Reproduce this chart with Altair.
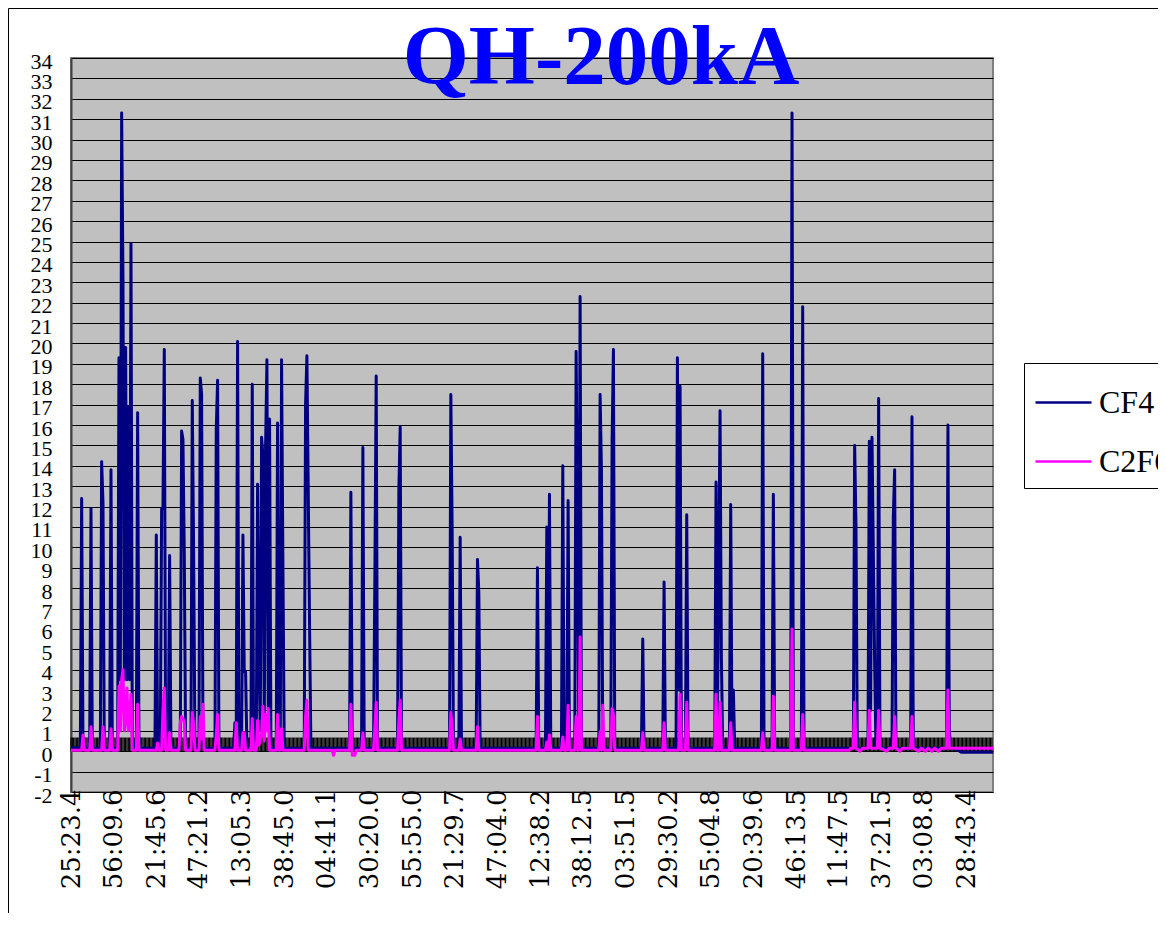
import json
import altair as alt
import pandas as pd

TITLE = "QH-200kA"
SERIES = ["CF4", "C2F6"]
COLORS = ["#000080", "#FF00FF"]

# category-axis labels (one every 32 samples)
TIME_LABELS = ["25:23.4", "56:09.6", "21:45.6", "47:21.2", "13:05.3", "38:45.0",
               "04:41.1", "30:20.0", "55:55.0", "21:29.7", "47:04.0", "12:38.2",
               "38:12.5", "03:51.5", "29:30.2", "55:04.8", "20:39.6", "46:13.5",
               "11:47.5", "37:21.5", "03:08.8", "28:43.4"]
SAMPLES_PER_LABEL = 32
LAST_SAMPLE = 691.8
Y_TICKS = list(range(-2, 35))

# CF4 series: sample index / concentration
CF4_IDX = [0, 7, 8, 9, 14, 15, 16, 22, 23, 24, 25, 29, 30, 31, 35, 36, 37, 38, 39, 40,
           41, 42, 43, 44, 45, 46, 47, 49, 50, 51, 63, 64, 65, 67, 68, 69, 70, 71, 73, 74,
           75, 82, 83, 84, 85, 86, 90, 91, 92, 93, 96, 97, 98, 99, 100, 108, 109, 110, 111,
           122, 123, 124, 125, 126, 128, 129, 130, 131, 132, 135, 136, 137, 139, 140, 141,
           142, 143, 144, 145, 146, 147, 148, 149, 150, 154, 155, 156, 157, 158, 159, 160,
           175, 176, 177, 179, 180, 209, 210, 211, 218, 219, 220, 227, 228, 229, 230, 245,
           246, 247, 248, 284, 285, 286, 287, 291, 292, 293, 304, 305, 306, 307, 349, 350,
           351, 356, 357, 358, 359, 360, 368, 369, 370, 372, 373, 374, 378, 379, 380, 381,
           382, 383, 396, 397, 398, 399, 405, 406, 407, 408, 428, 429, 430, 444, 445, 446,
           454, 455, 456, 457, 458, 461, 462, 463, 483, 484, 485, 487, 488, 489, 494, 495,
           496, 497, 498, 518, 519, 520, 526, 527, 528, 540, 541, 542, 548, 549, 550, 587,
           588, 589, 590, 598, 599, 600, 601, 603, 604, 605, 606, 607, 616, 617, 618, 619,
           630, 631, 632, 657, 658, 659, 660, 663, 668, 692]
CF4_VAL = [0.2, 0.15, 12.4, 0.15, 0.15, 11.9, 0.15, 0.15, 14.2, 12.2, 0.15, 0.15, 13.8, 0.15,
           0.15, 19.3, 3.5, 31.3, 23.1, 3.5, 19.8, 3.5, 16.9, 3.5, 24.9, 0.8, 0.15, 0.15, 16.6,
           0.15, 0.15, 10.6, 0.15, 0.15, 11.9, 11.9, 19.7, 0.15, 0.15, 9.6, 0.15, 0.15, 15.7,
           15.3, 9.7, 0.15, 0.15, 17.2, 9.9, 0.15, 0.15, 18.3, 17.5, 1.0, 0.15, 0.15, 15.8,
           18.2, 0.15, 0.15, 1.4, 1.4, 20.1, 0.15, 0.15, 10.6, 3.9, 3.9, 0.15, 0.15, 18.0,
           0.15, 0.15, 13.1, 4.7, 1.0, 15.4, 14.5, 1.0, 14.9, 19.2, 2.0, 16.3, 0.15, 0.15,
           16.1, 0.15, 0.15, 19.2, 9.2, 0.15, 0.15, 17.0, 19.4, 6.2, 0.15, 0.15, 12.7, 0.15,
           0.15, 14.9, 0.15, 0.15, 8.6, 18.4, 0.15, 0.15, 12.8, 15.9, 0.15, 0.15, 17.5, 10.8,
           0.15, 0.15, 10.5, 0.15, 0.15, 9.4, 7.8, 0.15, 0.15, 9.0, 0.15, 0.15, 11.0, 0.5,
           12.6, 0.15, 0.15, 14.0, 0.15, 0.15, 12.3, 0.15, 0.15, 19.6, 12.0, 1.0, 22.3, 0.15,
           0.15, 17.5, 13.8, 0.15, 0.15, 15.2, 19.7, 0.15, 0.15, 5.5, 0.15, 0.15, 8.3, 0.15,
           0.15, 19.3, 3.0, 17.9, 0.15, 0.15, 11.6, 0.15, 0.15, 13.2, 1.0, 16.7, 4.6, 0.15,
           0.15, 12.1, 0.15, 3.0, 0.15, 0.15, 19.5, 0.15, 0.15, 12.6, 0.15, 0.15, 31.3, 0.15,
           0.15, 21.8, 0.15, 0.15, 15.0, 11.0, 0.15, 0.15, 15.2, 2.0, 15.4, 4.3, 0.15, 0.15,
           17.3, 0.15, 0.15, 11.5, 13.8, 0.15, 0.15, 16.4, 0.15, 0.15, 16.0, 1.1, 0.15, 0.15,
           -0.05, -0.05]

# C2F6 series
C2F6_IDX = [0, 8, 9, 10, 14, 15, 16, 23, 24, 25, 29, 30, 31, 35, 36, 37, 38, 39, 40, 41,
            42, 43, 44, 45, 46, 49, 50, 51, 64, 65, 66, 68, 69, 70, 71, 73, 74, 75, 81, 82,
            83, 84, 85, 86, 90, 91, 92, 93, 96, 97, 98, 99, 100, 108, 109, 110, 111, 123, 124,
            125, 128, 129, 130, 131, 135, 136, 137, 139, 140, 141, 143, 144, 145, 146, 147,
            148, 149, 154, 155, 156, 157, 158, 159, 175, 176, 177, 178, 196, 197, 198, 209,
            210, 211, 213, 214, 218, 219, 220, 227, 228, 229, 230, 245, 246, 247, 248, 284,
            285, 286, 287, 291, 292, 293, 304, 305, 306, 349, 350, 351, 356, 357, 358, 359,
            360, 368, 369, 370, 372, 373, 374, 378, 379, 380, 381, 382, 383, 396, 397, 398,
            399, 400, 405, 406, 407, 408, 428, 429, 430, 444, 445, 446, 456, 457, 458, 461,
            462, 463, 483, 484, 485, 486, 487, 488, 494, 495, 496, 518, 519, 520, 526, 527,
            528, 540, 541, 542, 548, 549, 550, 584, 585, 587, 588, 589, 592, 594, 598, 599,
            600, 605, 606, 607, 612, 614, 617, 618, 619, 622, 624, 630, 631, 632, 636, 638,
            641, 643, 646, 648, 651, 653, 657, 658, 659, 692]
C2F6_VAL = [0.05, 0.05, 0.8, 0.05, 0.05, 1.2, 0.05, 0.05, 1.2, 0.05, 0.05, 1.1, 0.05, 0.05,
            3.2, 1.0, 3.5, 4.0, 1.0, 1.5, 3.1, 1.0, 1.8, 2.8, 0.05, 0.05, 2.3, 0.05, 0.05, 0.4,
            0.05, 0.05, 2.0, 3.1, 0.05, 0.05, 0.9, 0.05, 0.05, 1.4, 1.7, 1.6, 1.4, 0.05, 0.05,
            1.9, 1.3, 0.05, 0.05, 1.7, 0.6, 2.3, 0.05, 0.05, 0.8, 1.8, 0.05, 0.05, 1.4, 0.05,
            0.05, 0.9, 0.9, 0.05, 0.05, 1.6, 0.05, 0.05, 1.5, 0.3, 0.8, 2.2, 0.5, 1.8, 1.0,
            2.1, 0.05, 0.05, 1.8, 0.05, 0.05, 1.1, 0.05, 0.05, 1.7, 2.5, 0.05, 0.05, -0.2,
            0.05, 0.05, 2.3, -0.2, -0.2, 0.05, 0.05, 0.9, 0.05, 0.05, 1.2, 2.4, 0.05, 0.05,
            1.5, 2.5, 0.05, 0.05, 1.9, 1.2, 0.05, 0.05, 0.6, 0.05, 0.05, 1.2, 0.05, 0.05, 1.7,
            0.05, 0.05, 0.45, 0.05, 0.8, 0.05, 0.05, 0.7, 0.05, 0.05, 2.25, 0.05, 0.05, 1.7,
            0.05, 0.05, 5.6, 0.05, 0.05, 0.95, 0.05, 2.25, 0.05, 0.05, 2.1, 1.8, 0.05, 0.05,
            0.9, 0.05, 0.05, 1.4, 0.05, 0.05, 2.8, 0.05, 0.05, 2.4, 0.05, 0.05, 2.8, 0.05,
            0.05, 2.4, 0.05, 0.05, 1.4, 0.05, 0.05, 0.9, 0.05, 0.05, 2.7, 0.05, 0.05, 6.0,
            0.05, 0.05, 1.8, 0.05, 0.05, 0.15, 0.15, 2.4, 0.15, 0.0, 0.15, 0.15, 2.0, 0.15,
            0.15, 2.0, 0.15, 0.0, 0.15, 0.15, 1.7, 0.15, 0.0, 0.15, 0.15, 1.7, 0.15, 0.0, 0.15,
            0.0, 0.15, 0.0, 0.15, 0.0, 0.15, 0.15, 3.0, 0.15, 0.15]

SERIF = "'Liberation Serif', 'DejaVu Serif', 'Times New Roman', serif"
SERIF_WIDE = "'DejaVu Serif', 'Liberation Serif', serif"

cf4 = pd.DataFrame({"i": CF4_IDX, "v": CF4_VAL, "s": SERIES[0]})
c2f6 = pd.DataFrame({"i": C2F6_IDX, "v": C2F6_VAL, "s": SERIES[1]})

label_ticks = [k * SAMPLES_PER_LABEL for k in range(len(TIME_LABELS))]
label_expr = json.dumps(TIME_LABELS) + "[round(datum.value / %d)]" % SAMPLES_PER_LABEL

x_scale = alt.Scale(domain=[0, LAST_SAMPLE], nice=False, zero=False)
y_scale = alt.Scale(domain=[Y_TICKS[0], Y_TICKS[-1]], nice=False, zero=False)

x_axis = alt.Axis(values=label_ticks, labelExpr=label_expr, title=None, labelAngle=270,
                  labelAlign="right", labelBaseline="middle", labelFont=SERIF_WIDE,
                  labelFontSize=26, labelColor="black", labelPadding=-3, ticks=False,
                  domain=False, grid=False, labelOverlap=False, labelFlush=False,
                  labelBound=False)
y_axis = alt.Axis(values=Y_TICKS, title=None, labelFont=SERIF, labelFontSize=22,
                  labelColor="black", labelPadding=19, labelOffset=3, ticks=False,
                  domain=True, domainColor="#404040", domainWidth=2, grid=True,
                  gridColor="black", gridWidth=1, gridOpacity=1, labelOverlap=False,
                  labelExpr="datum.value < 0 ? '-' + abs(datum.value) : '' + datum.value")

color = alt.Color("s:N", scale=alt.Scale(domain=SERIES, range=COLORS),
                  legend=alt.Legend(title=None, orient="none", legendX=953, legendY=305,
                                    symbolType="stroke", symbolSize=3136,
                                    symbolStrokeWidth=2.5, labelFont=SERIF,
                                    labelFontSize=32, labelColor="black", labelOffset=6,
                                    padding=10, rowPadding=13, strokeColor="black",
                                    fillColor="white", labelLimit=0))

# category tick marks along the zero line
band = alt.Chart(alt.sequence(0, 692, 1, as_="t")).mark_rule(
    color="black", strokeWidth=1.2).encode(
    x=alt.X("t:Q", scale=x_scale, axis=x_axis),
    y=alt.datum(0.0, scale=y_scale, axis=y_axis),
    y2=alt.datum(0.67))

line_cf4 = alt.Chart(cf4).mark_line(strokeWidth=3, strokeJoin="round").encode(
    x=alt.X("i:Q", scale=x_scale, axis=x_axis),
    y=alt.Y("v:Q", scale=y_scale, axis=y_axis),
    color=color)

line_c2f6 = alt.Chart(c2f6).mark_line(strokeWidth=3, strokeJoin="round").encode(
    x=alt.X("i:Q", scale=x_scale, axis=x_axis),
    y=alt.Y("v:Q", scale=y_scale, axis=y_axis),
    color=color)

title = alt.Chart(alt.Data(values=[{"t": TITLE}])).mark_text(
    font=SERIF, fontSize=85, fontWeight="bold", color="#0000FF",
    align="center", baseline="alphabetic").encode(
    text="t:N", x=alt.value(530), y=alt.value(26))

frame = alt.Chart(alt.Data(values=[{"f": 1}])).mark_rect(
    fillOpacity=0, stroke="black", strokeWidth=1).encode(
    x=alt.value(-62.5), x2=alt.value(1300), y=alt.value(-49.5), y2=alt.value(1200))

chart = alt.layer(band, line_cf4, line_c2f6, title, frame).properties(
    width=922, height=734,
    padding={"left": 63, "top": 50, "right": 165, "bottom": 121},
    autosize=alt.AutoSizeParams(type="none"),
    background="white",
).configure(
    font=SERIF,
).configure_axisX(
    labelFont=SERIF_WIDE
).configure_axisY(
    labelFont=SERIF
).configure_legend(
    labelFont=SERIF
).configure_view(fill="#C0C0C0", stroke="#808080", strokeWidth=2)

chart.save("out.html", embed_options={"renderer": "svg", "actions": False})
